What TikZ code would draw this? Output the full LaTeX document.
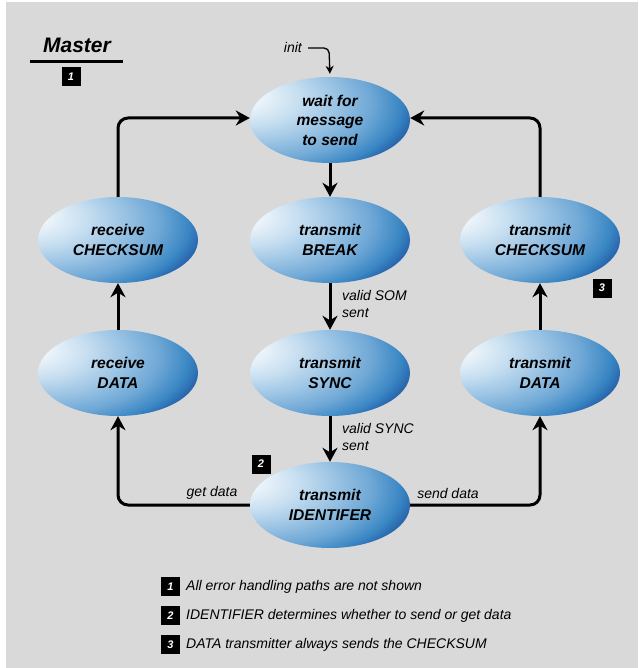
\documentclass[tikz,border=0pt]{standalone}
\usepackage{fontspec}
\setmainfont{Liberation Sans}
\usetikzlibrary{shapes.geometric,arrows.meta}
\definecolor{bg}{HTML}{D9D9D9}
\definecolor{sA}{HTML}{F8FBFE}
\definecolor{sB}{HTML}{EEF5FB}
\definecolor{sC}{HTML}{C9E0F1}
\definecolor{sD}{HTML}{A2C8E6}
\definecolor{sE}{HTML}{6FA8D6}
\definecolor{sF}{HTML}{3A87C4}
\definecolor{sG}{HTML}{2A6AB0}
\definecolor{sH}{HTML}{1A4796}
\pgfdeclareradialshading{blob}{\pgfpoint{-30bp}{15bp}}{%
  color(0bp)=(sA); color(6bp)=(sB); color(15bp)=(sC); color(23bp)=(sD);
  color(33bp)=(sE); color(40bp)=(sF); color(43bp)=(sG); color(47bp)=(sH);
  color(100bp)=(sH)}
\tikzset{
  state/.style={ellipse, shading=blob, minimum width=160pt, minimum height=86pt,
    inner sep=0pt, align=center,
    font=\bfseries\itshape\fontsize{15.6}{19.5}\selectfont},
  flow/.style={line width=3pt, -{Stealth[length=14pt,width=15pt,inset=4.5pt]}},
  lbl/.style={font=\itshape\fontsize{14}{17}\selectfont, align=left, inner sep=0pt},
  numbox/.style={fill=black, text=white, minimum size=19pt, inner sep=0pt,
    font=\bfseries\itshape\fontsize{11}{11}\selectfont},
  note/.style={font=\itshape\fontsize{14}{16}\selectfont, inner sep=0pt, anchor=west}
}
\begin{document}
\begin{tikzpicture}[x=1pt,y=-1pt]
\useasboundingbox (0,0) rectangle (638,668);
\fill[white] (0,0) rectangle (638,668);
\fill[bg] (6,2) rectangle (638,668);

% title
\node (master) at (77,45) {\bfseries\itshape\fontsize{21}{25}\selectfont Master};
\coordinate (ruleL) at (30,62);
\coordinate (ruleR) at (123,62);
\draw[line width=3pt] (ruleL) -- (ruleR);
\node[numbox] (n1) at (71,77) {1};

% states
\node[state] (wait)   at (330,120) {wait for\\message\\to send};
\node[state] (break)  at (330,240) {transmit\\BREAK};
\node[state] (sync)   at (330,373) {transmit\\SYNC};
\node[state] (ident)  at (330,505) {transmit\\IDENTIFER};
\node[state] (rcheck) at (118,240) {receive\\CHECKSUM};
\node[state] (rdata)  at (118,373) {receive\\DATA};
\node[state] (tcheck) at (540,240) {transmit\\CHECKSUM};
\node[state] (tdata)  at (540,373) {transmit\\DATA};

% init
\node[lbl, anchor=east] (initlbl) at (302,47) {init};
\coordinate (initA) at (308,48);
\coordinate (initB) at (329,48);
\draw[line width=1.3pt, rounded corners=5pt, -{Stealth[length=8pt,width=8pt,inset=2.5pt]}, shorten >=3pt]
  (initA) -- (initB) -- (wait.north);

% flows
\draw[flow] (wait.south) -- (break.north);
\draw[flow] (break.south) -- (sync.north);
\draw[flow] (sync.south) -- (ident.north);
\draw[flow, rounded corners=10pt] (ident.west) -| (rdata.south);
\draw[flow] (rdata.north) -- (rcheck.south);
\draw[flow, rounded corners=10pt] (rcheck.north) |- ([yshift=2pt]wait.west);
\draw[flow, rounded corners=10pt] (ident.east) -| (tdata.south);
\draw[flow] (tdata.north) -- (tcheck.south);
\draw[flow, rounded corners=10pt] (tcheck.north) |- ([yshift=2pt]wait.east);

% labels
\node[lbl, anchor=west] (som) at (342,303.5) {valid SOM\\sent};
\node[lbl, anchor=west] (synclbl) at (342,436.5) {valid SYNC\\sent};
\node[lbl] (get) at (212,493) {get data};
\node[lbl] (send) at (448,493) {send data};
\node[numbox] (n2) at (261,464) {2};
\node[numbox] (n3) at (602,288) {3};

% notes
\node[numbox] (k1) at (170.5,586.5) {1};
\node[numbox] (k2) at (170.5,615.5) {2};
\node[numbox] (k3) at (170.5,644.5) {3};
\node[note] (t1) at (186,587) {All error handling paths are not shown};
\node[note] (t2) at (186,616) {IDENTIFIER determines whether to send or get data};
\node[note] (t3) at (186,645) {DATA transmitter always sends the CHECKSUM};
\end{tikzpicture}
\end{document}
